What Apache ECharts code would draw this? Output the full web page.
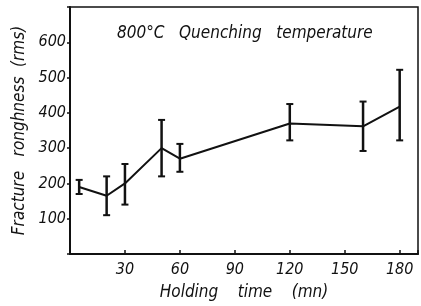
<!DOCTYPE html>
<html>
<head>
<meta charset="utf-8">
<script src="https://cdn.jsdelivr.net/npm/echarts@6/dist/echarts.min.js"></script>
<style>
  html, body { margin: 0; padding: 0; background: #fff; }
  #chart { width: 421px; height: 306px; }
</style>
</head>
<body>
<div id="chart"></div>
<script>
const holdingTime = [5, 20, 30, 50, 60, 120, 160, 180]
const roughness = [190, 165, 200, 300, 270, 370, 362, 418]
const errLow = [170, 110, 140, 220, 233, 322, 292, 322]
const errHigh = [210, 220, 255, 380, 312, 425, 432, 522]

const font = '"Liberation Sans Narrow", "DejaVu Sans Condensed", sans-serif'
const ink = '#111'

const chart = echarts.init(document.getElementById('chart'))

const option = {
  animation: false,
  title: {
    text: '800°C   Quenching   temperature',
    left: 112,
    top: 20,
    textStyle: { fontFamily: font, fontStyle: 'italic', fontWeight: 'normal', fontSize: 17, color: ink }
  },
  grid: {
    left: 70,
    top: 7,
    right: 1,
    bottom: 48,
    show: true,
    borderColor: ink,
    borderWidth: 1.5
  },
  xAxis: {
    type: 'value',
    min: 0,
    max: 190,
    interval: 30,
    name: 'Holding    time    (mn)',
    nameLocation: 'middle',
    nameGap: 30,
    nameTextStyle: { fontFamily: font, fontStyle: 'italic', fontSize: 17, color: ink },
    axisLine: { lineStyle: { color: ink, width: 2 } },
    axisTick: { inside: true, length: 4, lineStyle: { color: ink, width: 1.5 } },
    axisLabel: {
      fontFamily: font, fontStyle: 'italic', fontSize: 16, color: ink, margin: 8,
      formatter: v => (v > 0 && v % 30 === 0 ? String(v) : '')
    },
    splitLine: { show: false }
  },
  yAxis: {
    type: 'value',
    min: 0,
    max: 700,
    interval: 100,
    name: 'Fracture   ronghness  (rms)',
    nameLocation: 'middle',
    nameGap: 40,
    nameTextStyle: { fontFamily: font, fontStyle: 'italic', fontSize: 17, color: ink },
    axisLine: { lineStyle: { color: ink, width: 2 } },
    axisTick: { length: 3, lineStyle: { color: ink, width: 1.5 } },
    axisLabel: {
      fontFamily: font, fontStyle: 'italic', fontSize: 16, color: ink, margin: 4,
      formatter: v => (v > 0 && v < 700 ? String(v) : '')
    },
    splitLine: { show: false }
  },
  series: [
    {
      type: 'line',
      data: holdingTime.map((t, i) => [t, roughness[i]]),
      showSymbol: false,
      lineStyle: { color: ink, width: 2 },
      z: 3
    },
    {
      type: 'custom',
      data: holdingTime.map((t, i) => [t, errLow[i], errHigh[i]]),
      renderItem: function (params, api) {
        const lo = api.coord([api.value(0), api.value(1)])
        const hi = api.coord([api.value(0), api.value(2)])
        const w = 3.5
        const style = { stroke: ink, lineWidth: 2.5 }
        return {
          type: 'group',
          children: [
            { type: 'line', shape: { x1: lo[0], y1: lo[1], x2: hi[0], y2: hi[1] }, style },
            { type: 'line', shape: { x1: lo[0] - w, y1: lo[1], x2: lo[0] + w, y2: lo[1] }, style: { stroke: ink, lineWidth: 2 } },
            { type: 'line', shape: { x1: hi[0] - w, y1: hi[1], x2: hi[0] + w, y2: hi[1] }, style: { stroke: ink, lineWidth: 2 } }
          ]
        }
      },
      z: 4
    }
  ]
}

chart.setOption(option)
</script>
</body>
</html>
